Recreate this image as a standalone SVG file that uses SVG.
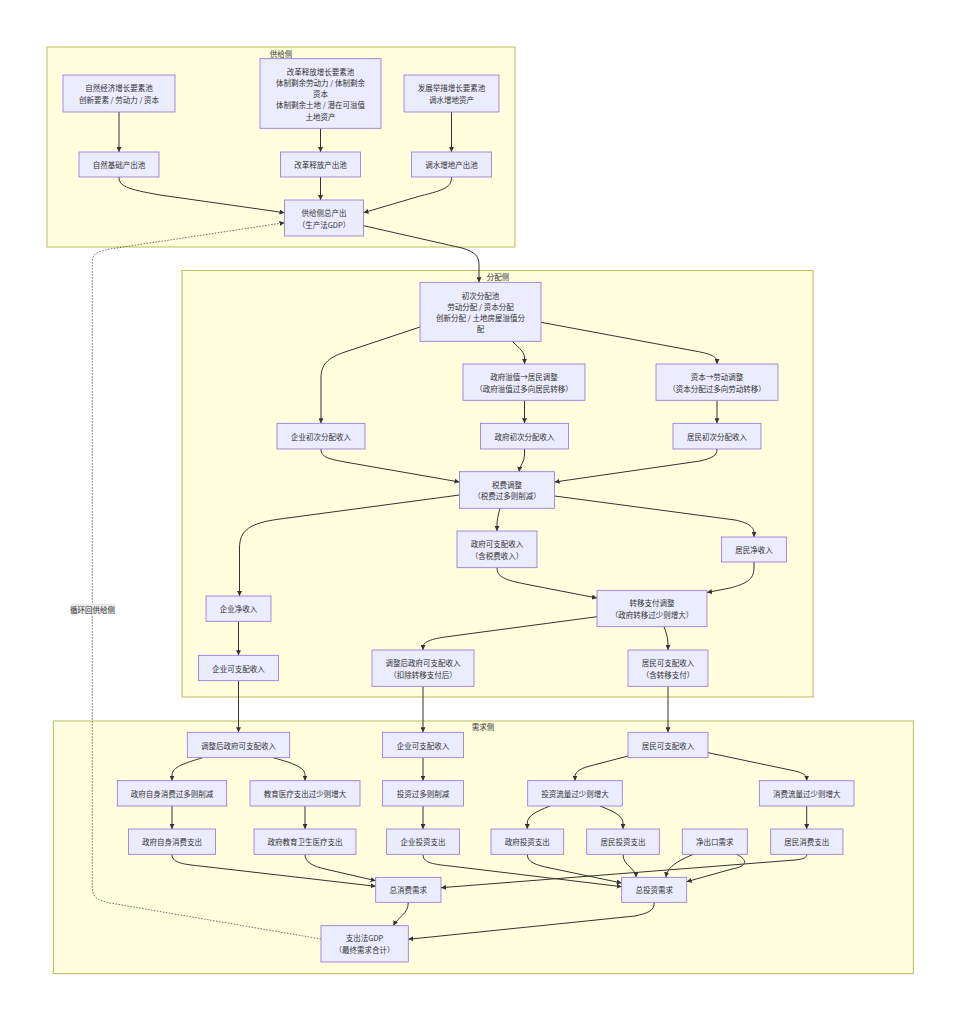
<svg xmlns="http://www.w3.org/2000/svg" width="960" height="1021" viewBox="0 0 960 1021">
<style>
.cl{fill:#ffffde;stroke:#aaaa33;stroke-width:0.8}
.nd rect{fill:#ECECFF;stroke:#9370DB;stroke-width:0.8}
text{font-family:"Noto Sans CJK SC","Noto Sans",sans-serif;font-size:7.5px;fill:#333;text-anchor:middle;dominant-baseline:central}
.e{fill:none;stroke:#333;stroke-width:1;marker-end:url(#ah)}
.d{fill:none;stroke:#444;stroke-width:0.8;stroke-dasharray:1.5 1.5;marker-end:url(#ah)}
</style>
<defs>
<marker id="ah" markerUnits="userSpaceOnUse" markerWidth="5" markerHeight="5" refX="5" refY="2.5" orient="auto">
<path d="M0,0 L5,2.5 L0,5 z" fill="#333"/>
</marker>
</defs>
<rect width="960" height="1021" fill="#fff"/>
<g id="clusters">
<rect class="cl" x="47" y="47" width="468" height="200"/>
<text x="281" y="53">供给侧</text>
<rect class="cl" x="182" y="270.5" width="631" height="426.5"/>
<text x="498" y="276.5">分配侧</text>
<rect class="cl" x="53.3" y="721" width="860" height="252.7"/>
<text x="483" y="726.5">需求侧</text>
</g>
<g id="edges">
<path class="e" d="M119,112 L119,152"/>
<path class="e" d="M320.5,128.3 L320.5,152"/>
<path class="e" d="M451.5,112 L451.5,152"/>
<path class="e" d="M119,177 C119,186 126,189 160,195 L284.5,212.7"/>
<path class="e" d="M320.5,177 L320.5,200"/>
<path class="e" d="M451.5,177 C451.5,187 445,190 420,196 L363.5,212.7"/>
<path class="e" d="M363.5,225.7 L462,248 C475,252 479,256 479,265 L479,282.3"/>
<path class="d" d="M321,939 L110,903 C96,900 92.3,896 92.3,888 L92.3,262 C92.3,254 96,252 110,249 L284.5,222.7"/>
<path class="e" d="M420,327 L345,352 C327,358 321,365 321,378 L321,423.3"/>
<path class="e" d="M512.3,341.3 C520,349 524.5,352 524.5,358 L524.5,364"/>
<path class="e" d="M541,322.3 L695,351 C712,354 717,357 717,362 L717,364"/>
<path class="e" d="M524.5,400.3 L524.5,423.3"/>
<path class="e" d="M717,400.3 L717,423.3"/>
<path class="e" d="M321,449 C321,458 330,459 345,462 L459.5,482"/>
<path class="e" d="M524.5,449 L524.5,455 C524.5,462 520,465 519,471.7"/>
<path class="e" d="M717,449 C717,456 712,458 700,461 L554.6,482"/>
<path class="e" d="M459.4,495 L280,519 C250,523 239.5,530 239.5,548 L239.5,596"/>
<path class="e" d="M500,508.3 C498,515 497,520 497,525 L497,531"/>
<path class="e" d="M554.6,496 L735,520 C750,523 754,528 754,533 L754,537"/>
<path class="e" d="M497,567.7 C497,577 505,580 525,584 L597,598"/>
<path class="e" d="M754,562 L754,568 C754,580 745,584 730,588 L707,592.5"/>
<path class="e" d="M597,616.7 L445,637 C428,639.5 423,643 423,647 L423,650"/>
<path class="e" d="M664,626.7 C667,634 668,640 668,645 L668,650"/>
<path class="e" d="M238.5,621.3 L238.5,655.3"/>
<path class="e" d="M238.5,680.7 L238.5,732.3"/>
<path class="e" d="M423,686.3 L423,732.3"/>
<path class="e" d="M668,686.3 L668,732.3"/>
<path class="e" d="M202.7,757.7 C185,763 172,767 172,775 L172,780.7"/>
<path class="e" d="M273.3,757.7 C292,763 305,767 305,775 L305,780.7"/>
<path class="e" d="M423,757.7 L423,780.7"/>
<path class="e" d="M628,756 L590,766 C578,769 575,773 575,777 L575,780.7"/>
<path class="e" d="M708,752.7 L795,771 C804,773 806.7,776 806.7,779 L806.7,780.7"/>
<path class="e" d="M172,806 L172,829"/>
<path class="e" d="M305,806 L305,829"/>
<path class="e" d="M423,806 L423,829"/>
<path class="e" d="M550,806 C535,812 527.3,816 527.3,823 L527.3,829"/>
<path class="e" d="M600,806 C615,812 623,816 623,823 L623,829"/>
<path class="e" d="M806.7,806 L806.7,829"/>
<path class="e" d="M172,854.3 C172,862 180,864 200,866 L375.7,886.3"/>
<path class="e" d="M305,854.3 C305,862 312,866 325,869 L375.7,880.7"/>
<path class="e" d="M806.7,854.3 C806.7,858 804,859 795,860 L441,887.7"/>
<path class="e" d="M423,854.3 C423,862 430,864 450,866 L621.7,886.7"/>
<path class="e" d="M527.3,854.3 C527.3,862 535,865 550,868 L621.7,883"/>
<path class="e" d="M623,854.3 C623,866 636,868 636,877.3"/>
<path class="e" d="M693.3,854.3 C675,862 667,868 666,877.3"/>
<path class="e" d="M736.7,854.3 C748,860 748,866 732,869 L686.7,881.7"/>
<path class="e" d="M408.3,902.3 C408.3,914 398,917 393.3,925.7"/>
<path class="e" d="M654.3,902.3 C654.3,911 648,913 635,916 L408.3,939.3"/>
<rect x="70.5" y="603.8" width="44" height="10.4" fill="#e8e8e8" opacity="0.9"/>
<text x="92.5" y="609">循环回供给侧</text>
</g>
<g id="n1" class="nd"><rect x="63" y="75" width="112" height="37"/><text x="119" y="87.7">自然经济增长要素池</text><text x="119" y="99">创新要素 / 劳动力 / 资本</text></g>
<g id="n2" class="nd"><rect x="260" y="58.7" width="121" height="69.6"/><text x="320.5" y="71">改革释放增长要素池</text><text x="320.5" y="82.3">体制剩余劳动力 / 体制剩余</text><text x="320.5" y="93.5">资本</text><text x="320.5" y="104.7">体制剩余土地 / 潜在可溢值</text><text x="320.5" y="116">土地资产</text></g>
<g id="n3" class="nd"><rect x="404" y="75" width="95" height="37"/><text x="451.5" y="87.7">发展举措增长要素池</text><text x="451.5" y="99">调水增地资产</text></g>
<g id="n4" class="nd"><rect x="79" y="152" width="80" height="25"/><text x="119" y="164.5">自然基础产出池</text></g>
<g id="n5" class="nd"><rect x="280.5" y="152" width="80" height="25"/><text x="320.5" y="164.5">改革释放产出池</text></g>
<g id="n6" class="nd"><rect x="411.5" y="152" width="80" height="25"/><text x="451.5" y="164.5">调水增地产出池</text></g>
<g id="n7" class="nd"><rect x="284.5" y="200" width="79" height="36"/><text x="324" y="212.5">供给侧总产出</text><text x="324" y="224">（生产法GDP）</text></g>
<g id="d1" class="nd"><rect x="420" y="282.3" width="121" height="59"/><text x="480.5" y="295">初次分配池</text><text x="480.5" y="306.3">劳动分配 / 资本分配</text><text x="480.5" y="317.5">创新分配 / 土地房屋溢值分</text><text x="480.5" y="328.7">配</text></g>
<g id="d2" class="nd"><rect x="463" y="364" width="122" height="36.3"/><text x="524" y="376.5">政府溢值→居民调整</text><text x="524" y="388">（政府溢值过多向居民转移）</text></g>
<g id="d3" class="nd"><rect x="656" y="364" width="122" height="36.3"/><text x="717" y="376.5">资本→劳动调整</text><text x="717" y="388">（资本分配过多向劳动转移）</text></g>
<g id="d4" class="nd"><rect x="277" y="423.3" width="88" height="25.7"/><text x="321" y="436.2">企业初次分配收入</text></g>
<g id="d5" class="nd"><rect x="480.5" y="423.3" width="88" height="25.7"/><text x="524.5" y="436.2">政府初次分配收入</text></g>
<g id="d6" class="nd"><rect x="673" y="423.3" width="88" height="25.7"/><text x="717" y="436.2">居民初次分配收入</text></g>
<g id="d7" class="nd"><rect x="459.5" y="471.7" width="95" height="36.6"/><text x="507" y="484">税费调整</text><text x="507" y="495.7">（税费过多则削减）</text></g>
<g id="d8" class="nd"><rect x="457" y="531" width="80" height="36.7"/><text x="497" y="543.3">政府可支配收入</text><text x="497" y="555">（含税费收入）</text></g>
<g id="d9" class="nd"><rect x="721.5" y="537" width="65" height="25"/><text x="754" y="549.5">居民净收入</text></g>
<g id="d10" class="nd"><rect x="206" y="596" width="65" height="25.3"/><text x="238.5" y="608.7">企业净收入</text></g>
<g id="d11" class="nd"><rect x="597" y="590.3" width="110" height="36.4"/><text x="652" y="602.7">转移支付调整</text><text x="652" y="614.3">（政府转移过少则增大）</text></g>
<g id="d12" class="nd"><rect x="198.5" y="655.3" width="80" height="25.4"/><text x="238.5" y="668">企业可支配收入</text></g>
<g id="d13" class="nd"><rect x="372" y="650" width="102" height="36.3"/><text x="423" y="662.3">调整后政府可支配收入</text><text x="423" y="674">（扣除转移支付后）</text></g>
<g id="d14" class="nd"><rect x="628" y="650" width="80" height="36.3"/><text x="668" y="662.3">居民可支配收入</text><text x="668" y="674">（含转移支付）</text></g>
<g id="e1" class="nd"><rect x="187.3" y="732.3" width="102.4" height="25.4"/><text x="238.5" y="745">调整后政府可支配收入</text></g>
<g id="e2" class="nd"><rect x="382.5" y="732.3" width="81" height="25.4"/><text x="423" y="745">企业可支配收入</text></g>
<g id="e3" class="nd"><rect x="628" y="732.3" width="80" height="25.4"/><text x="668" y="745">居民可支配收入</text></g>
<g id="e4" class="nd"><rect x="117.3" y="780.7" width="109.4" height="25.3"/><text x="172" y="793.4">政府自身消费过多则削减</text></g>
<g id="e5" class="nd"><rect x="250" y="780.7" width="110" height="25.3"/><text x="305" y="793.4">教育医疗支出过少则增大</text></g>
<g id="e6" class="nd"><rect x="382.5" y="780.7" width="81" height="25.3"/><text x="423" y="793.4">投资过多则削减</text></g>
<g id="e7" class="nd"><rect x="527.7" y="780.7" width="94.6" height="25.3"/><text x="575" y="793.4">投资流量过少则增大</text></g>
<g id="e8" class="nd"><rect x="759.3" y="780.7" width="94.7" height="25.3"/><text x="806.7" y="793.4">消费流量过少则增大</text></g>
<g id="e9" class="nd"><rect x="128.5" y="829" width="87" height="25.3"/><text x="172" y="841.7">政府自身消费支出</text></g>
<g id="e10" class="nd"><rect x="254" y="829" width="102" height="25.3"/><text x="305" y="841.7">政府教育卫生医疗支出</text></g>
<g id="e11" class="nd"><rect x="386.6" y="829" width="72.8" height="25.3"/><text x="423" y="841.7">企业投资支出</text></g>
<g id="e12" class="nd"><rect x="491" y="829" width="72.7" height="25.3"/><text x="527.3" y="841.7">政府投资支出</text></g>
<g id="e13" class="nd"><rect x="586.7" y="829" width="72.6" height="25.3"/><text x="623" y="841.7">居民投资支出</text></g>
<g id="e14" class="nd"><rect x="682.3" y="829" width="65" height="25.3"/><text x="714.8" y="841.7">净出口需求</text></g>
<g id="e15" class="nd"><rect x="770.7" y="829" width="72.3" height="25.3"/><text x="806.8" y="841.7">居民消费支出</text></g>
<g id="e16" class="nd"><rect x="375.7" y="877.3" width="65.3" height="25"/><text x="408.3" y="889.8">总消费需求</text></g>
<g id="e17" class="nd"><rect x="621.7" y="877.3" width="65" height="25"/><text x="654.2" y="889.8">总投资需求</text></g>
<g id="e18" class="nd"><rect x="321" y="925.7" width="87.3" height="36.3"/><text x="364.6" y="937.7">支出法GDP</text><text x="364.6" y="949.3">（最终需求合计）</text></g>
</svg>
